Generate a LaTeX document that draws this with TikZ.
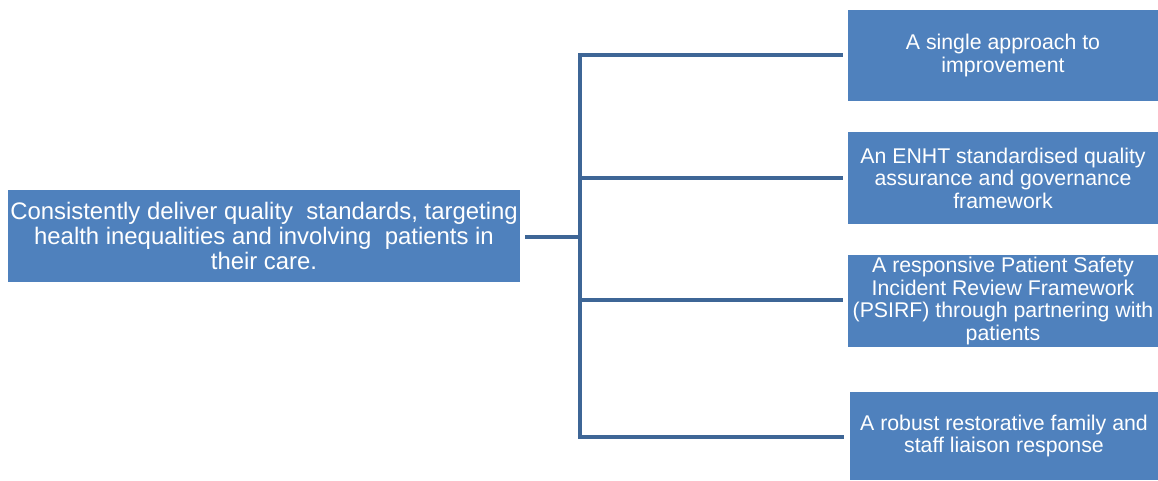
\documentclass[tikz,border=0pt]{standalone}
\usepackage{fontspec}
\setmainfont{Liberation Sans}
\definecolor{boxblue}{HTML}{4F81BD}
\definecolor{linkblue}{HTML}{3E6696}
\begin{document}
\begin{tikzpicture}[x=1pt,y=1pt,
  box/.style={fill=boxblue, draw=none, text=white, align=center, inner sep=0pt,
    font=\fontsize{21.3}{22.6}\selectfont},
  link/.style={draw=linkblue, line width=4pt, line join=miter}]
\useasboundingbox (0,0) rectangle (1158,480);
\node[box, minimum width=512, minimum height=92, font=\fontsize{23.9}{25}\selectfont] (L) at (264,244)
  {Consistently deliver quality\ \ standards, targeting\\health inequalities and involving\ \ patients in\\their care.};
\node[box, minimum width=310, minimum height=91] (b1) at (1003,424.5)
  {A single approach to\\improvement};
\node[box, minimum width=310, minimum height=92] (b2) at (1003,302)
  {An ENHT standardised quality\\assurance and governance\\framework};
\node[box, minimum width=310, minimum height=92] (b3) at (1003,179)
  {A responsive Patient Safety\\Incident Review Framework\\(PSIRF) through partnering with\\patients};
\node[box, minimum width=308, minimum height=88] (b4) at (1004,44)
  {A robust restorative family and\\staff liaison response};
\coordinate (j) at (580,243);
\draw[link] ([xshift=5pt]L.east |- j) -- (j);
\draw[link] (j) |- ([xshift=-5pt]b1.west |- 0,425);
\draw[link] (j) |- ([xshift=-5pt]b2.west |- 0,302);
\draw[link] (j) |- ([xshift=-5pt]b3.west |- 0,180);
\draw[link] (j) |- ([xshift=-6pt]b4.west |- 0,43);
\end{tikzpicture}
\end{document}
